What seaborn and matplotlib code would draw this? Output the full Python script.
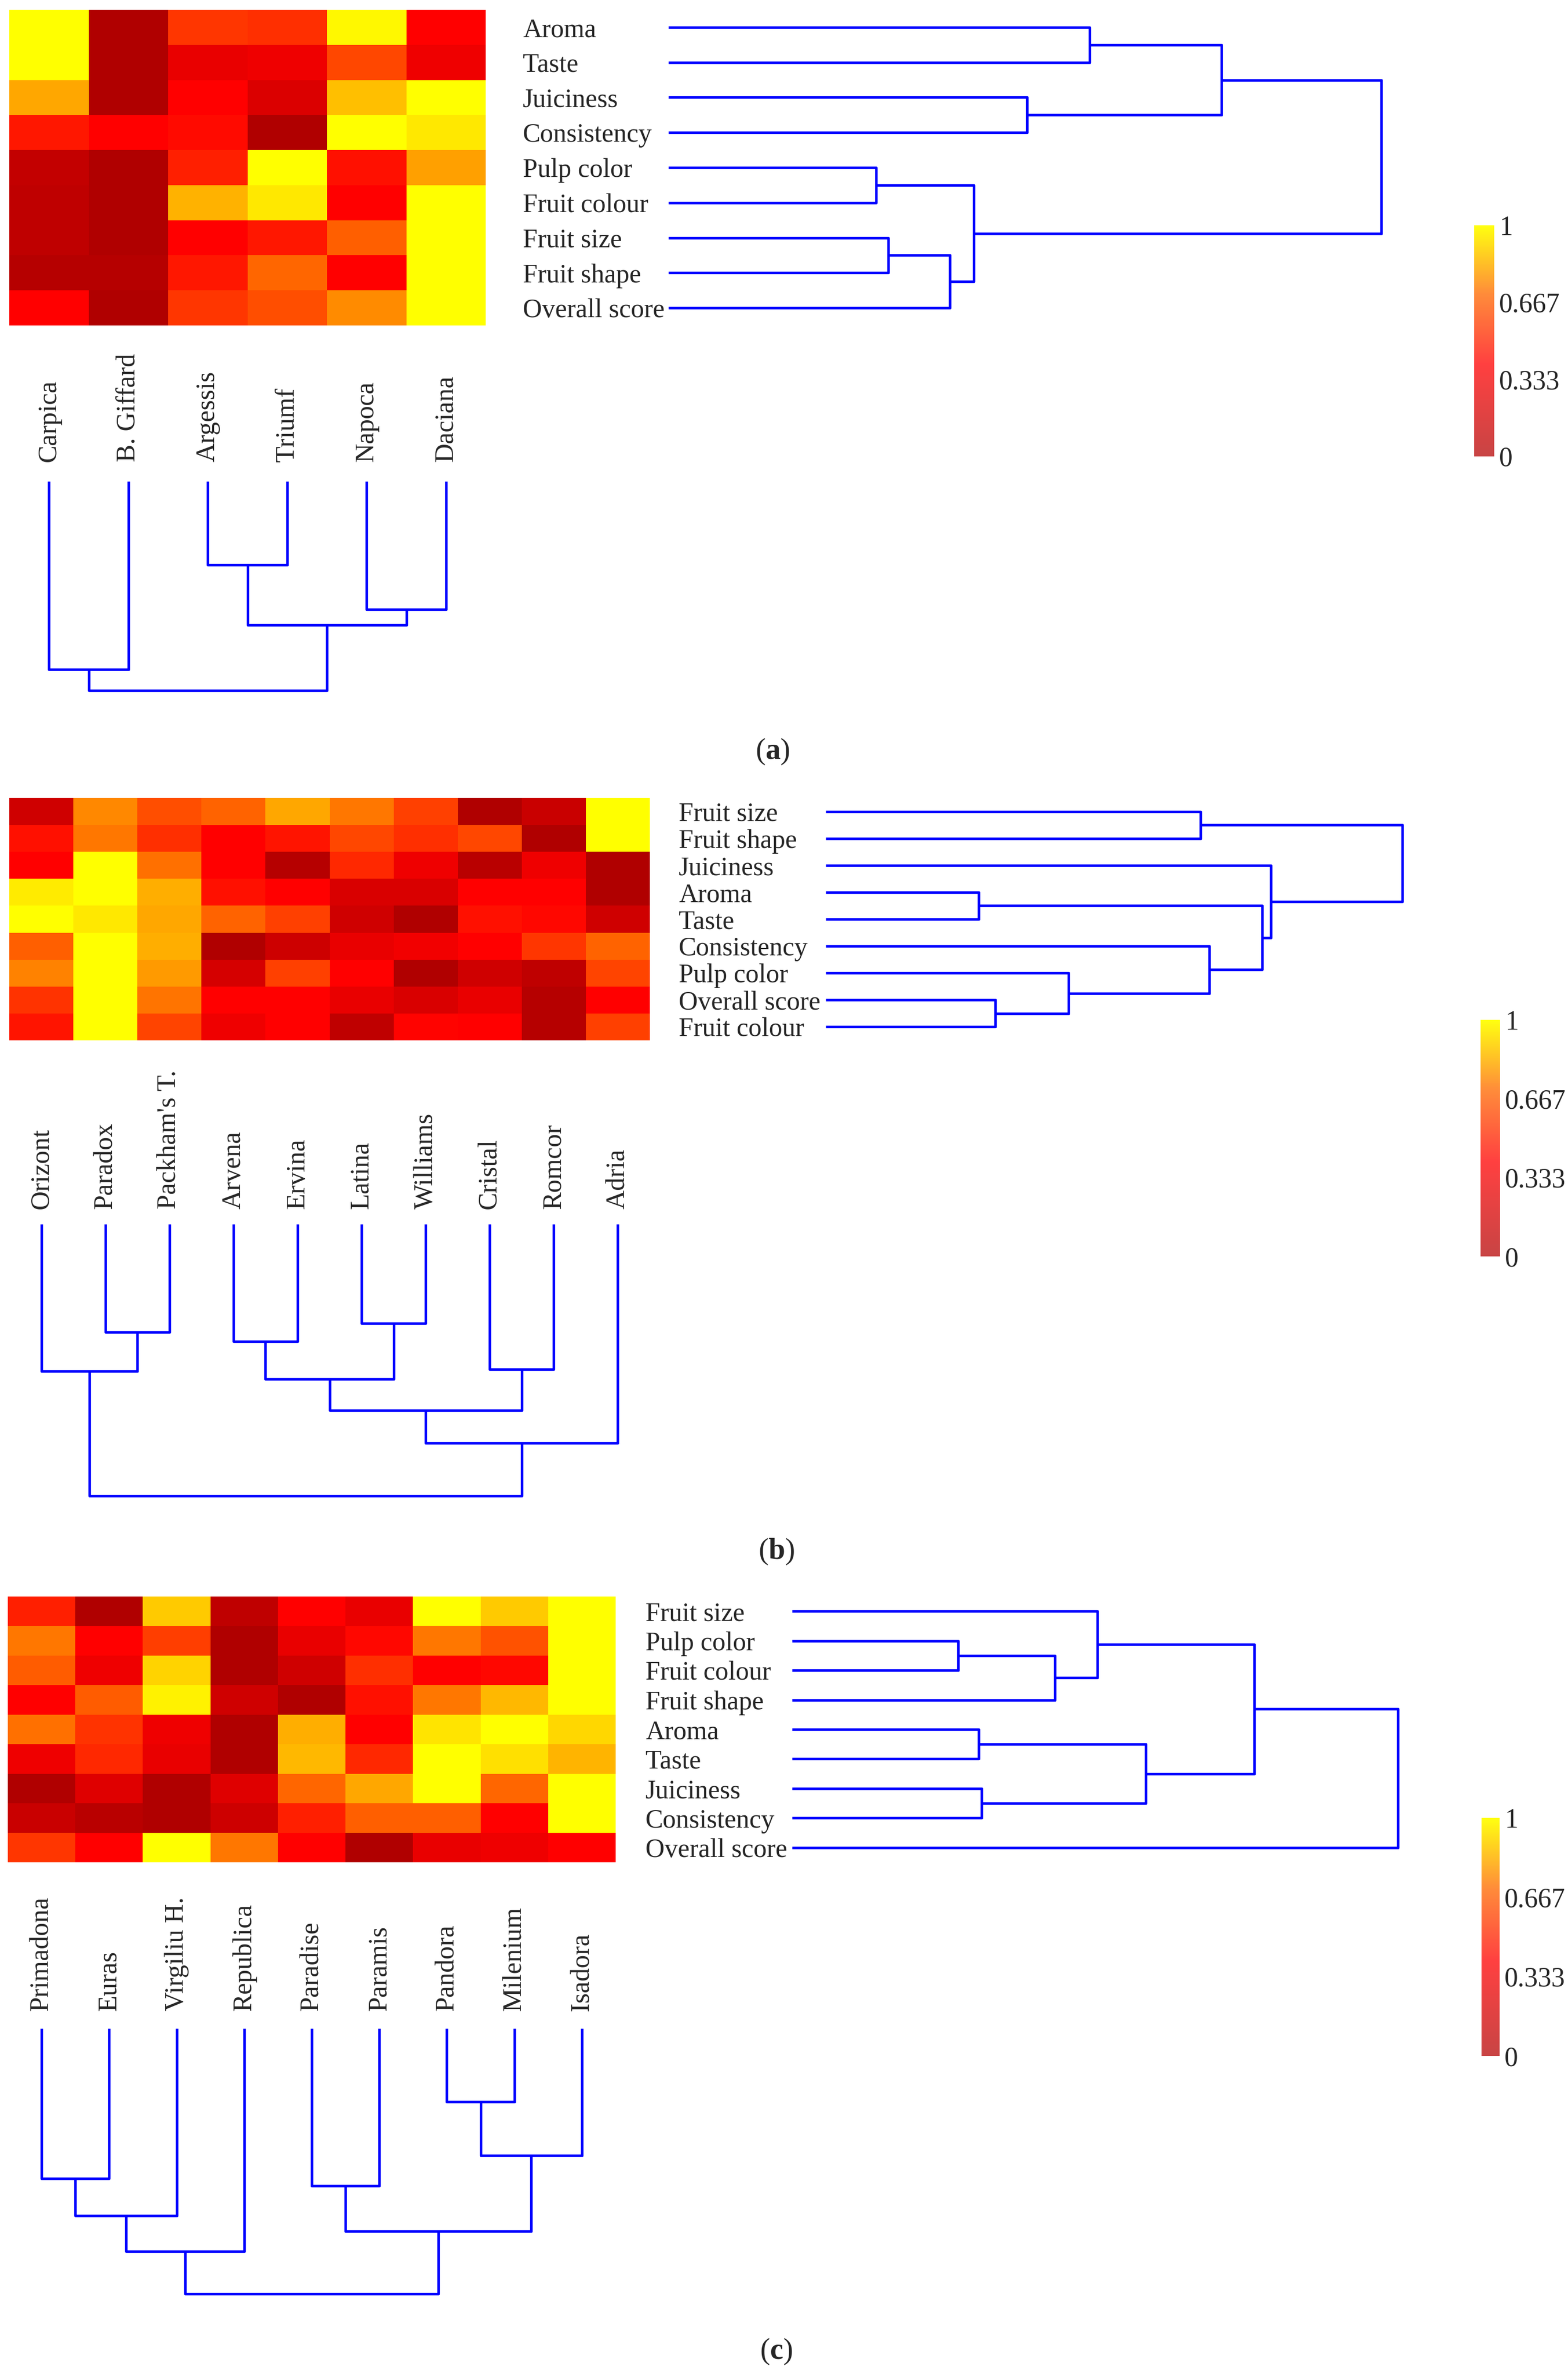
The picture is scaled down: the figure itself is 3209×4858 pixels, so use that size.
import numpy as np
import pandas as pd
import matplotlib
matplotlib.use("Agg")
import matplotlib.pyplot as plt
import seaborn as sns
from matplotlib.colors import LinearSegmentedColormap, Normalize
from matplotlib.cm import ScalarMappable

# === Panel (a) data ===
cultivars_a = ["Carpica", "B. Giffard", "Argessis", "Triumf", "Napoca", "Daciana"]
traits_a = ["Aroma", "Taste", "Juiciness", "Consistency", "Pulp color",
            "Fruit colour", "Fruit size", "Fruit shape", "Overall score"]
values_a = [
    [1.00, 0.00, 0.41, 0.39, 0.98, 0.25],
    [1.00, 0.00, 0.18, 0.20, 0.46, 0.20],
    [0.74, 0.00, 0.25, 0.14, 0.81, 1.00],
    [0.32, 0.25, 0.28, 0.00, 1.00, 0.93],
    [0.06, 0.00, 0.34, 1.00, 0.30, 0.72],
    [0.05, 0.00, 0.77, 0.93, 0.25, 1.00],
    [0.05, 0.00, 0.25, 0.32, 0.53, 1.00],
    [0.02, 0.02, 0.32, 0.55, 0.25, 1.00],
    [0.25, 0.00, 0.41, 0.48, 0.66, 1.00],
]
# merges: (child, child, height), leaves are 0..n-1 in display order
row_merges_a = [(0, 1, 8.62), (2, 3, 7.34), (4, 5, 4.25), (6, 7, 4.50),
                (12, 8, 5.76), (11, 13, 6.25), (9, 10, 11.32), (15, 14, 14.59)]
col_merges_a = [(0, 1, 3.85), (2, 3, 1.71), (4, 5, 2.62), (7, 8, 2.94), (6, 9, 4.28)]

# === Panel (b) data ===
cultivars_b = ["Orizont", "Paradox", "Packham's T.", "Arvena", "Ervina",
               "Latina", "Williams", "Cristal", "Romcor", "Adria"]
traits_b = ["Fruit size", "Fruit shape", "Juiciness", "Aroma", "Taste",
            "Consistency", "Pulp color", "Overall score", "Fruit colour"]
values_b = [
    [0.10, 0.65, 0.48, 0.54, 0.74, 0.60, 0.44, 0.00, 0.08, 1.00],
    [0.30, 0.60, 0.39, 0.25, 0.31, 0.46, 0.39, 0.46, 0.00, 1.00],
    [0.25, 1.00, 0.58, 0.25, 0.02, 0.37, 0.20, 0.03, 0.20, 0.00],
    [0.94, 1.00, 0.76, 0.30, 0.25, 0.13, 0.13, 0.25, 0.25, 0.00],
    [1.00, 0.93, 0.74, 0.54, 0.44, 0.10, 0.00, 0.30, 0.27, 0.10],
    [0.53, 1.00, 0.76, 0.00, 0.09, 0.18, 0.21, 0.25, 0.41, 0.54],
    [0.63, 1.00, 0.70, 0.12, 0.44, 0.25, 0.00, 0.10, 0.05, 0.45],
    [0.40, 1.00, 0.59, 0.25, 0.25, 0.18, 0.13, 0.18, 0.02, 0.25],
    [0.31, 1.00, 0.45, 0.20, 0.25, 0.05, 0.26, 0.25, 0.02, 0.44],
]
row_merges_b = [(0, 1, 7.67), (3, 4, 3.13), (7, 8, 3.47), (6, 11, 4.97),
                (5, 12, 7.85), (10, 13, 8.93), (2, 14, 9.11), (9, 15, 11.80)]
col_merges_b = [(1, 2, 2.21), (0, 10, 3.01), (3, 4, 2.40), (5, 6, 2.03),
                (12, 13, 3.17), (7, 8, 2.97), (14, 15, 3.81), (16, 9, 4.48),
                (11, 17, 5.56)]

# === Panel (c) data ===
cultivars_c = ["Primadona", "Euras", "Virgiliu H.", "Republica", "Paradise",
               "Paramis", "Pandora", "Milenium", "Isadora"]
traits_c = ["Fruit size", "Pulp color", "Fruit colour", "Fruit shape", "Aroma",
            "Taste", "Juiciness", "Consistency", "Overall score"]
values_c = [
    [0.34, 0.00, 0.84, 0.05, 0.25, 0.18, 1.00, 0.84, 1.00],
    [0.60, 0.25, 0.43, 0.00, 0.18, 0.27, 0.60, 0.49, 1.00],
    [0.52, 0.20, 0.87, 0.00, 0.10, 0.39, 0.25, 0.27, 1.00],
    [0.25, 0.52, 0.96, 0.10, 0.00, 0.30, 0.60, 0.79, 1.00],
    [0.58, 0.40, 0.20, 0.00, 0.76, 0.25, 0.92, 1.00, 0.88],
    [0.20, 0.37, 0.18, 0.00, 0.79, 0.37, 1.00, 0.91, 0.78],
    [0.00, 0.15, 0.00, 0.15, 0.55, 0.74, 1.00, 0.55, 1.00],
    [0.08, 0.03, 0.00, 0.09, 0.34, 0.53, 0.53, 0.25, 1.00],
    [0.41, 0.25, 1.00, 0.60, 0.25, 0.00, 0.18, 0.20, 0.25],
]
row_merges_c = [(1, 2, 3.40), (9, 3, 5.38), (0, 10, 6.25), (4, 5, 3.82),
                (6, 7, 3.88), (12, 13, 7.24), (11, 14, 9.46), (15, 8, 12.40)]
col_merges_c = [(0, 1, 3.08), (9, 2, 3.84), (10, 3, 4.57), (4, 5, 3.23),
                (6, 7, 1.50), (13, 8, 2.60), (12, 14, 4.16), (11, 15, 5.44)]

# === Figure setup ===
sns.set_style("white")
plt.rcParams["font.family"] = ["Liberation Serif", "DejaVu Serif"]
plt.rcParams["mathtext.fontset"] = "custom"
plt.rcParams["mathtext.rm"] = "Liberation Serif"
plt.rcParams["mathtext.bf"] = "Liberation Serif:bold"

W, H = 3209, 4858
DPI = 100
PT = 72 / DPI
FS = 39
LINE = dict(color="#0000ff", lw=3.8, clip_on=False, solid_capstyle="butt")

heat_cmap = LinearSegmentedColormap.from_list(
    "heat", [(0, "#b00000"), (0.25, "#ff0000"), (1, "#ffff00")])
bar_cmap = LinearSegmentedColormap.from_list(
    "bar", [(0, "#c84444"), (0.4, "#ff4040"), (0.7, "#ff8a3a"), (1, "#ffff10")])

fig = plt.figure(figsize=(W / DPI, H / DPI), dpi=DPI)


def rect(x0, y0, x1, y1):
    return [x0 / W, 1 - y1 / H, (x1 - x0) / W, (y1 - y0) / H]


def dendro_segments(n, merges):
    pos = [i + 0.5 for i in range(n)]
    hgt = [0.0] * n
    segs = []
    for a, b, h in merges:
        segs.append(([pos[a], pos[a], pos[b], pos[b]], [hgt[a], h, h, hgt[b]]))
        pos.append((pos[a] + pos[b]) / 2)
        hgt.append(h)
    return segs


def hide_spines(ax):
    for sp in ax.spines.values():
        sp.set_visible(False)


def panel(values, traits, cultivars, row_merges, col_merges, box, letter):
    heat_box, col_box, row_box, cbar_box, row_pad, col_pad, lab_xy = box
    df = pd.DataFrame(values, index=traits, columns=cultivars)

    ax = fig.add_axes(rect(*heat_box))
    sns.heatmap(df, ax=ax, cmap=heat_cmap, vmin=0, vmax=1, cbar=False,
                xticklabels=False, yticklabels=False)
    ax.set_xlabel("")
    ax.set_ylabel("")

    # column dendrogram, labels on top
    axc = fig.add_axes(rect(*col_box))
    for xs, hs in dendro_segments(len(cultivars), col_merges):
        axc.plot(xs, hs, **LINE)
    axc.set_xlim(0, len(cultivars))
    axc.set_ylim(max(m[2] for m in col_merges), 0)
    axc.xaxis.tick_top()
    axc.set_xticks(np.arange(len(cultivars)) + 0.5)
    axc.set_xticklabels(cultivars, rotation=90, fontsize=FS)
    axc.set_yticks([])
    axc.tick_params(axis="x", length=0, pad=col_pad * PT)
    hide_spines(axc)

    # row dendrogram, labels on the left
    axr = fig.add_axes(rect(*row_box))
    for ps, hs in dendro_segments(len(traits), row_merges):
        axr.plot(hs, ps, **LINE)
    axr.set_ylim(len(traits), 0)
    axr.set_xlim(0, max(m[2] for m in row_merges))
    axr.set_yticks(np.arange(len(traits)) + 0.5)
    axr.set_yticklabels(traits, ha="left", fontsize=FS)
    axr.set_xticks([])
    axr.tick_params(axis="y", length=0, pad=row_pad * PT)
    hide_spines(axr)

    # colorbar
    cax = fig.add_axes(rect(*cbar_box))
    cb = fig.colorbar(ScalarMappable(Normalize(0, 1), bar_cmap), cax=cax)
    cb.set_ticks([0, 1 / 3, 2 / 3, 1])
    cb.set_ticklabels(["0", "0.333", "0.667", "1"])
    cb.outline.set_visible(False)
    cax.tick_params(length=0, pad=10 * PT, labelsize=40)

    fig.text(lab_xy[0] / W, 1 - lab_xy[1] / H, r"($\mathbf{%s}$)" % letter,
             ha="center", va="center", fontsize=44)


panel(values_a, traits_a, cultivars_a, row_merges_a, col_merges_a,
      ((19, 20, 994, 666), (19, 985, 994, 1413), (1368, 20, 2827, 666),
       (3017, 461, 3058, 934), 298, 40, (1581, 1538)), "a")
panel(values_b, traits_b, cultivars_b, row_merges_b, col_merges_b,
      ((19, 1633, 1330, 2129), (19, 2505, 1330, 3061), (1690, 1633, 2870, 2129),
       (3030, 2087, 3070, 2571), 301, 31, (1589, 3175)), "b")
panel(values_c, traits_c, cultivars_c, row_merges_c, col_merges_c,
      ((16, 3267, 1260, 3811), (16, 4151, 1260, 4694), (1621, 3267, 2861, 3811),
       (3032, 3720, 3069, 4207), 300, 36, (1589, 4812)), "c")

fig.savefig("out.png", dpi=DPI, facecolor="white")
plt.close(fig)
